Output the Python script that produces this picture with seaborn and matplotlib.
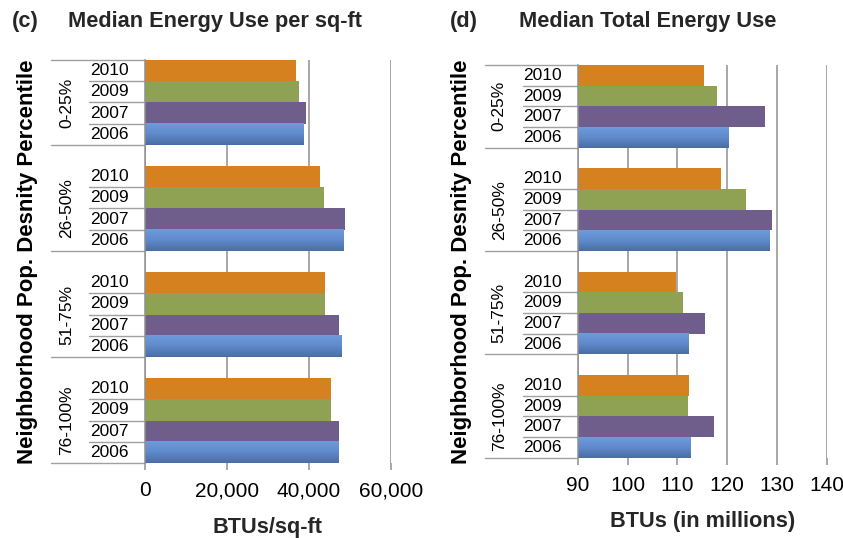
import numpy as np
import pandas as pd
import matplotlib
matplotlib.use("Agg")
import matplotlib.pyplot as plt
import seaborn as sns
from matplotlib.colors import LinearSegmentedColormap

# ---- data -------------------------------------------------------------
groups = ["0-25%", "26-50%", "51-75%", "76-100%"]
years = ["2010", "2009", "2007", "2006"]

# median energy use per square foot (BTUs/sq-ft)
per_sqft_2010 = [36800, 42700, 43900, 45400]
per_sqft_2009 = [37600, 43700, 43900, 45400]
per_sqft_2007 = [39200, 48700, 47300, 47300]
per_sqft_2006 = [38700, 48300, 48000, 47300]

# median total energy use (BTUs, millions)
total_2010 = [115.4, 118.8, 109.7, 112.4]
total_2009 = [118.0, 123.7, 111.1, 112.1]
total_2007 = [127.6, 129.1, 115.6, 117.4]
total_2006 = [120.3, 128.5, 112.2, 112.6]

sqft_ticks = [0, 20000, 40000, 60000]
sqft_ticklabels = ["0", "20,000", "40,000", "60,000"]
total_ticks = [90, 100, 110, 120, 130, 140]
total_ticklabels = ["90", "100", "110", "120", "130", "140"]


def long_frame(series):
    rows = []
    for yr, vals in zip(years, series):
        for g, v in zip(groups, vals):
            rows.append({"group": g, "year": yr, "value": v})
    return pd.DataFrame(rows)


df_sqft = long_frame([per_sqft_2010, per_sqft_2009, per_sqft_2007, per_sqft_2006])
df_total = long_frame([total_2010, total_2009, total_2007, total_2006])

# ---- style ------------------------------------------------------------
sns.set_theme(style="white")
plt.rcParams["font.family"] = ["Liberation Sans", "DejaVu Sans"]

palette = {"2010": "#D58120", "2009": "#8FA254", "2007": "#6F5D8B", "2006": "#5F8ACB"}
grid_col = "#8f8f8f"
line_col = "#a0a0a0"
blue_grad = LinearSegmentedColormap.from_list("bluegrad", ["#6E9BDC", "#5F8ACB", "#4A6DA3"])

fig = plt.figure(figsize=(8.43, 5.38), dpi=100)
ax_l = fig.add_axes([145 / 843, 1 - 463 / 538, 246 / 843, 403 / 538])
ax_r = fig.add_axes([577.7 / 843, 1 - 457.7 / 538, 249 / 843, 392.7 / 538])

BAR_W = 0.8


def draw_panel(ax, df, xlim, ticks, ticklabels, xlabel, lab):
    sns.barplot(data=df, y="group", x="value", hue="year", order=groups,
                hue_order=years, palette=palette, orient="h", width=BAR_W,
                saturation=1, errorbar=None, linewidth=0, legend=False, ax=ax)

    ax.set_xlim(*xlim)
    ax.set_ylim(len(groups) - 1 + BAR_W / 2, -BAR_W / 2)

    # vertical shading on the 2006 bars, laid exactly over each bar
    grad = np.linspace(0, 1, 64).reshape(-1, 1)
    for bar in ax.containers[years.index("2006")]:
        x0, y0 = bar.get_x(), bar.get_y()
        w, h = bar.get_width(), bar.get_height()
        x_start = max(x0, xlim[0])
        ax.imshow(grad, cmap=blue_grad, aspect="auto", interpolation="bilinear",
                  extent=[x_start, x0 + w, y0 + h, y0], zorder=bar.get_zorder() + 0.1)

    ax.set_xlim(*xlim)
    ax.set_ylim(len(groups) - 1 + BAR_W / 2, -BAR_W / 2)
    ax.set_xticks(ticks)
    ax.set_xticklabels(ticklabels)
    ax.set_yticks([])
    ax.set_ylabel("")
    ax.set_xlabel(xlabel, fontsize=15.7, fontweight="bold", labelpad=12)

    ax.set_axisbelow(True)
    ax.xaxis.grid(True, color=grid_col, linewidth=1.1)
    for s in ["top", "right", "bottom"]:
        ax.spines[s].set_visible(False)
    ax.spines["left"].set_color(grid_col)
    ax.spines["left"].set_linewidth(1.1)
    ax.spines["left"].set_zorder(5)
    ax.tick_params(axis="x", bottom=True, length=5, width=1.1, color=grid_col,
                   labelsize=15, pad=8, labelcolor="black")

    # two-level category axis: years inside percentile groups
    tr = ax.get_yaxis_transform()
    n = len(years)
    step = BAR_W / n
    for gi, g in enumerate(groups):
        top = gi - BAR_W / 2
        for k, yr in enumerate(years):
            yc = top + step * (k + 0.5)
            ax.text(lab["year_x"], yc, yr, transform=tr, ha="right", va="center",
                    fontsize=12.5, color="black")
            if k > 0:
                ax.plot([lab["sep_x"], 0], [top + step * k] * 2, transform=tr,
                        color=line_col, lw=1.0, clip_on=False)
        ax.plot([lab["bound_x"], 0], [gi + BAR_W / 2] * 2, transform=tr,
                color=line_col, lw=1.0, clip_on=False)
        ax.text(lab["group_x"], gi, g, transform=tr, ha="center", va="center",
                rotation=90, fontsize=12.5, color="black")
    ax.plot([lab["bound_x"], 0], [-BAR_W / 2] * 2, transform=tr,
            color=line_col, lw=1.0, clip_on=False)

    ax.text(lab["ylab_x"], 0.5, "Neighborhood Pop. Desnity Percentile",
            transform=ax.transAxes, rotation=90, ha="center", va="center",
            fontsize=16, fontweight="bold", color="black")


draw_panel(ax_l, df_sqft, (0, 60000), sqft_ticks, sqft_ticklabels, "BTUs/sq-ft",
           dict(year_x=-0.065, sep_x=-0.228, bound_x=-0.382, group_x=-0.318, ylab_x=-0.478))
draw_panel(ax_r, df_total, (90, 140), total_ticks, total_ticklabels, "BTUs (in millions)",
           dict(year_x=-0.064, sep_x=-0.221, bound_x=-0.372, group_x=-0.315, ylab_x=-0.468))

# panel titles
ty = 1 - 22 / 538
fig.text(12 / 843, ty, "(c)", fontsize=15.7, fontweight="bold", va="center", ha="left")
fig.text(68 / 843, ty, "Median Energy Use per sq-ft", fontsize=15.7, fontweight="bold",
         va="center", ha="left")
fig.text(450 / 843, ty, "(d)", fontsize=15.7, fontweight="bold", va="center", ha="left")
fig.text(519 / 843, ty, "Median Total Energy Use", fontsize=15.7, fontweight="bold",
         va="center", ha="left")

fig.savefig("out.png", dpi=100, facecolor="white")
